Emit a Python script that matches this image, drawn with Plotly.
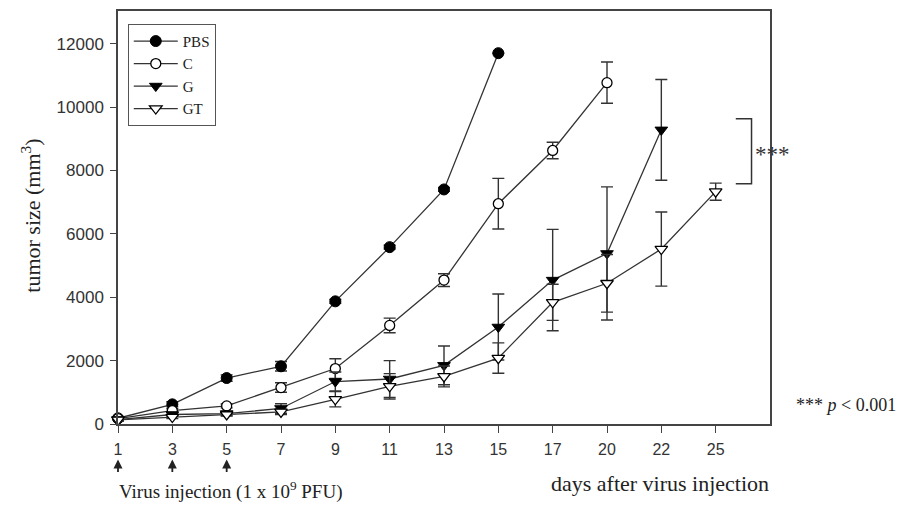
import plotly.graph_objects as go

# Days after virus injection (evenly spaced categories on the x axis)
days = [1, 3, 5, 7, 9, 11, 13, 15, 17, 20, 22, 25]

# Mean tumor size (mm^3) and standard error per group
pbs_mean = [180, 620, 1450, 1820, 3870, 5580, 7400, 11700]
pbs_err = [60, 80, 100, 150, 60, 60, 60, 0]

c_mean = [170, 420, 570, 1150, 1750, 3110, 4540, 6950, 8630, 10770]
c_err = [60, 60, 60, 150, 310, 230, 200, 800, 260, 650]

g_mean = [140, 300, 330, 490, 1340, 1420, 1850, 3060, 4540, 5380, 9280]
g_err = [40, 60, 60, 150, 300, 580, 610, 1040, 1600, 2100, 1590]

gt_mean = [130, 220, 300, 380, 780, 1190, 1500, 2080, 3840, 4440, 5520, 7330]
gt_err = [40, 50, 50, 80, 240, 400, 330, 480, 570, 910, 1170, 270]

y_ticks = [0, 2000, 4000, 6000, 8000, 10000, 12000]
injection_days = [1, 3, 5]

LINE = "#333333"
AXIS = "#444444"
SERIF = "Liberation Serif"
SANS = "Liberation Sans"

groups = [
    ("PBS", pbs_mean, pbs_err, dict(symbol="circle", size=11, color="black",
                                     line=dict(color="black", width=1))),
    ("C", c_mean, c_err, dict(symbol="circle", size=10, color="white",
                               line=dict(color="black", width=1.3))),
    ("G", g_mean, g_err, dict(symbol="triangle-down", size=11, color="black",
                               line=dict(color="black", width=1))),
    ("GT", gt_mean, gt_err, dict(symbol="triangle-down", size=11, color="white",
                                  line=dict(color="black", width=1.3))),
]

xs = list(range(len(days)))

fig = go.Figure()
for name, mean, err, marker in groups:
    fig.add_trace(go.Scatter(
        x=xs[:len(mean)], y=mean, name=name,
        mode="lines+markers",
        line=dict(color=LINE, width=1.3),
        marker=marker,
        error_y=dict(type="data", array=err, visible=True,
                     color=LINE, thickness=1.4, width=6),
        cliponaxis=False,
    ))

y_top = 13030

fig.update_layout(
    width=903, height=506,
    margin=dict(l=118, r=133, t=9, b=82),
    paper_bgcolor="white", plot_bgcolor="white",
    showlegend=True,
    legend=dict(x=0.015, y=0.969, xanchor="left", yanchor="top",
                bgcolor="white", bordercolor="#555555", borderwidth=1,
                font=dict(family=SERIF, size=15, color="#222222"),
                itemwidth=44, tracegroupgap=0),
    xaxis=dict(
        range=[0, 12], tickmode="array", tickvals=xs,
        ticktext=[str(d) for d in days],
        showgrid=False, zeroline=False,
        showline=True, linecolor=AXIS, linewidth=1.5, mirror=True,
        ticks="outside", ticklen=7, tickwidth=1.2, tickcolor=AXIS,
        tickfont=dict(family=SANS, size=16, color="#333333"),
        ticklabelstandoff=3,
    ),
    yaxis=dict(
        range=[0, y_top], tickmode="array",
        tickvals=y_ticks, ticktext=[str(v) for v in y_ticks],
        showgrid=False, zeroline=False,
        showline=True, linecolor=AXIS, linewidth=1.5, mirror=True,
        ticks="outside", ticklen=6, tickwidth=1.2, tickcolor=AXIS,
        tickfont=dict(family=SANS, size=17, color="#333333"),
        ticklabelstandoff=3,
    ),
)

# Y axis title
fig.add_annotation(text="tumor size (mm<sup>3</sup>)", textangle=-90,
                   xref="paper", yref="paper", x=-0.133, y=0.505,
                   xanchor="center", yanchor="middle", showarrow=False,
                   font=dict(family=SERIF, size=22, color="#222222"))

# X axis title
fig.add_annotation(text="days after virus injection",
                   xref="paper", yref="paper", x=0.831, y=-0.143,
                   xanchor="center", yanchor="middle", showarrow=False,
                   font=dict(family=SERIF, size=22, color="#222222"))

# Injection arrows on days 1, 3, 5
for d in injection_days:
    fig.add_annotation(text="", x=days.index(d), xref="x",
                       yref="paper", y=-0.086, showarrow=True,
                       ax=0, ay=14, arrowhead=2, arrowsize=1,
                       arrowwidth=1.8, arrowcolor="#222222")

fig.add_annotation(text="Virus injection (1 x 10<sup>9</sup> PFU)",
                   xref="paper", yref="paper", x=0.172, y=-0.16,
                   xanchor="center", yanchor="middle", showarrow=False,
                   font=dict(family=SERIF, size=19, color="#222222"))

# Significance bracket between G and GT end points
b_top = g_mean[-1] + 350
b_bot = gt_mean[-1] + 250
bx0, bx1 = 11.37, 11.66
fig.add_shape(type="path",
              path=f"M {bx0},{b_top} L {bx1},{b_top} L {bx1},{b_bot} L {bx0},{b_bot}",
              xref="x", yref="y", line=dict(color=LINE, width=1.5))
fig.add_annotation(text="***", x=bx1, y=(b_top + b_bot) / 2,
                   xref="x", yref="y", xanchor="left", yanchor="middle",
                   xshift=1, yshift=-3, showarrow=False,
                   font=dict(family=SERIF, size=23, color="#333333"))

fig.add_annotation(text="*** <i>p</i> < 0.001",
                   xref="paper", yref="paper", x=1.117, y=0.045,
                   xanchor="center", yanchor="middle", showarrow=False,
                   font=dict(family=SERIF, size=18, color="#222222"))

fig.write_html("out.html")
